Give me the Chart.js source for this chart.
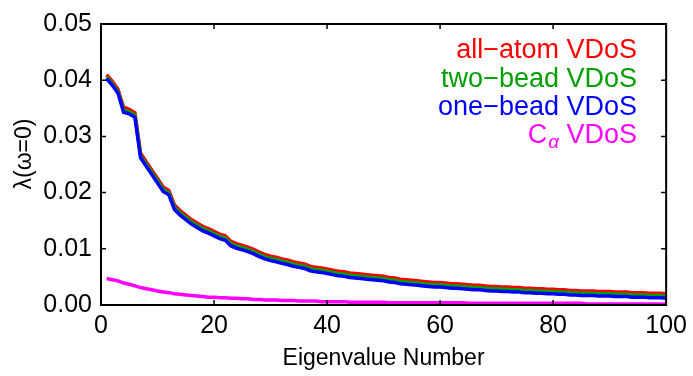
<!DOCTYPE html>
<html lang="en">
<head>
<meta charset="UTF-8">
<title>Eigenvalue spectrum</title>
<script src="https://cdn.jsdelivr.net/npm/chart.js"></script>
<style>
  body { margin: 0; background: #fff; }
  canvas { display: block; }
</style>
</head>
<body>
<canvas id="chart" width="693" height="376"></canvas>
<script>
// eigenvalue index 1..100
const eigenNums = Array.from({ length: 100 }, (_, i) => i + 1);

const allAtom = [
  0.0410, 0.0398, 0.0384, 0.0352, 0.0348, 0.0342, 0.0270, 0.0255, 0.0240, 0.0225,
  0.0210, 0.0204, 0.0178, 0.0168, 0.0160, 0.0152, 0.0146, 0.0140, 0.0136, 0.0131,
  0.0126, 0.0123, 0.0113, 0.0109, 0.0106, 0.0103, 0.0099, 0.0094, 0.0090, 0.0087,
  0.0085, 0.0082, 0.0080, 0.0077, 0.0075, 0.0073, 0.0069, 0.0067, 0.0066, 0.0064,
  0.0062, 0.0060, 0.0059, 0.0057, 0.0056, 0.0055, 0.0054, 0.0053, 0.0052, 0.0051,
  0.0049, 0.0048, 0.0046, 0.0045, 0.0044, 0.0043, 0.0042, 0.0041, 0.0040, 0.0040,
  0.0039, 0.0038, 0.0038, 0.0037, 0.0036, 0.0035, 0.0035, 0.0034, 0.0033, 0.0033,
  0.0032, 0.0032, 0.0031, 0.0031, 0.0030, 0.0030, 0.0029, 0.0029, 0.0028, 0.0028,
  0.0027, 0.0027, 0.0026, 0.0026, 0.0025, 0.0025, 0.0025, 0.0024, 0.0024, 0.0024,
  0.0023, 0.0023, 0.0023, 0.0022, 0.0022, 0.0022, 0.0021, 0.0021, 0.0021, 0.0020
];

const twoBead = [
  0.0406, 0.0394, 0.0380, 0.0347, 0.0344, 0.0338, 0.0265, 0.0251, 0.0236, 0.0221,
  0.0206, 0.0200, 0.0174, 0.0164, 0.0156, 0.0148, 0.0142, 0.0136, 0.0132, 0.0127,
  0.0122, 0.0119, 0.0109, 0.0105, 0.0102, 0.0099, 0.0095, 0.0090, 0.0086, 0.0083,
  0.0081, 0.0078, 0.0076, 0.0073, 0.0071, 0.0069, 0.0065, 0.0063, 0.0062, 0.0060,
  0.0058, 0.0056, 0.0055, 0.0053, 0.0052, 0.0051, 0.0050, 0.0049, 0.0048, 0.0047,
  0.0045, 0.0044, 0.0042, 0.0041, 0.0040, 0.0039, 0.0038, 0.0037, 0.0036, 0.0036,
  0.0035, 0.0034, 0.0034, 0.0033, 0.0032, 0.0031, 0.0031, 0.0030, 0.0029, 0.0029,
  0.0028, 0.0028, 0.0027, 0.0027, 0.0026, 0.0026, 0.0025, 0.0025, 0.0024, 0.0024,
  0.0023, 0.0023, 0.0022, 0.0022, 0.0021, 0.0021, 0.0021, 0.0020, 0.0020, 0.0020,
  0.0019, 0.0019, 0.0019, 0.0018, 0.0018, 0.0018, 0.0017, 0.0017, 0.0017, 0.0016
];

const oneBead = [
  0.0403, 0.0391, 0.0377, 0.0343, 0.0340, 0.0334, 0.0262, 0.0247, 0.0232, 0.0217,
  0.0202, 0.0196, 0.0170, 0.0160, 0.0152, 0.0144, 0.0138, 0.0132, 0.0128, 0.0123,
  0.0118, 0.0115, 0.0105, 0.0101, 0.0098, 0.0095, 0.0091, 0.0086, 0.0082, 0.0079,
  0.0077, 0.0074, 0.0072, 0.0069, 0.0067, 0.0065, 0.0061, 0.0059, 0.0058, 0.0056,
  0.0054, 0.0052, 0.0051, 0.0049, 0.0048, 0.0047, 0.0046, 0.0045, 0.0044, 0.0043,
  0.0041, 0.0040, 0.0038, 0.0037, 0.0036, 0.0035, 0.0034, 0.0033, 0.0032, 0.0032,
  0.0031, 0.0030, 0.0030, 0.0029, 0.0028, 0.0027, 0.0027, 0.0026, 0.0025, 0.0025,
  0.0024, 0.0024, 0.0023, 0.0023, 0.0022, 0.0022, 0.0021, 0.0021, 0.0020, 0.0020,
  0.0019, 0.0019, 0.0018, 0.0018, 0.0017, 0.0017, 0.0017, 0.0016, 0.0016, 0.0016,
  0.0015, 0.0015, 0.0015, 0.0014, 0.0014, 0.0014, 0.0013, 0.0013, 0.0013, 0.0012
];

const cAlpha = [
  0.0047, 0.0045, 0.0043, 0.0039, 0.0037, 0.0034, 0.0031, 0.0029, 0.0027, 0.0025,
  0.0023, 0.0022, 0.0020, 0.0019, 0.0018, 0.0017, 0.0016, 0.0015, 0.0014, 0.0014,
  0.0013, 0.0013, 0.0012, 0.0012, 0.0011, 0.0011, 0.0010, 0.0010, 0.0009, 0.0009,
  0.0009, 0.0008, 0.0008, 0.0008, 0.0007, 0.0007, 0.0007, 0.0007, 0.0006, 0.0006,
  0.0006, 0.0006, 0.0006, 0.0005, 0.0005, 0.0005, 0.0005, 0.0005, 0.0005, 0.0005,
  0.0004, 0.0004, 0.0004, 0.0004, 0.0004, 0.0004, 0.0004, 0.0004, 0.0004, 0.0004,
  0.0004, 0.0004, 0.0004, 0.0004, 0.0003, 0.0003, 0.0003, 0.0003, 0.0003, 0.0003,
  0.0003, 0.0003, 0.0003, 0.0003, 0.0003, 0.0003, 0.0003, 0.0003, 0.0003, 0.0003,
  0.0003, 0.0003, 0.0003, 0.0003, 0.0003, 0.0002, 0.0002, 0.0002, 0.0002, 0.0002,
  0.0002, 0.0002, 0.0002, 0.0002, 0.0002, 0.0002, 0.0002, 0.0002, 0.0002, 0.0002
];

const xTicks = [0, 20, 40, 60, 80, 100];
const yTicks = [0, 0.01, 0.02, 0.03, 0.04, 0.05];

const FONT = "'Liberation Sans', Arial, sans-serif";

function pts(arr) {
  return eigenNums.map((n, i) => ({ x: n, y: arr[i] }));
}

// frame with inward ticks, y title and coloured text legend
const framePlugin = {
  id: 'frame',
  afterDatasetsDraw(chart) {
    const { ctx, chartArea: a, scales } = chart;
    ctx.save();
    ctx.strokeStyle = '#000';
    ctx.lineWidth = 2;
    ctx.strokeRect(a.left, a.top, a.right - a.left, a.bottom - a.top);
    ctx.lineWidth = 1.5;
    const len = 5;
    ctx.beginPath();
    xTicks.forEach(v => {
      const px = scales.x.getPixelForValue(v);
      ctx.moveTo(px, a.bottom); ctx.lineTo(px, a.bottom - len);
      ctx.moveTo(px, a.top); ctx.lineTo(px, a.top + len);
    });
    yTicks.forEach(v => {
      const py = scales.y.getPixelForValue(v);
      ctx.moveTo(a.left, py); ctx.lineTo(a.left + len, py);
      ctx.moveTo(a.right, py); ctx.lineTo(a.right - len, py);
    });
    ctx.stroke();

    // y axis title
    ctx.save();
    ctx.translate(25, 154);
    ctx.rotate(-Math.PI / 2);
    ctx.fillStyle = '#000';
    ctx.font = '23px ' + FONT;
    ctx.textAlign = 'center';
    ctx.textBaseline = 'middle';
    ctx.fillText('\u03BB(\u03C9=0)', 0, 0);
    ctx.restore();

    // legend text, right aligned
    const rx = 637;
    ctx.font = '27px ' + FONT;
    ctx.textAlign = 'right';
    ctx.textBaseline = 'alphabetic';
    ctx.fillStyle = '#ff0000';
    ctx.fillText('all\u2212atom VDoS', rx, 58);
    ctx.fillStyle = '#00a000';
    ctx.fillText('two\u2212bead VDoS', rx, 87);
    ctx.fillStyle = '#0000ff';
    ctx.fillText('one\u2212bead VDoS', rx, 115);

    ctx.fillStyle = '#ff00ff';
    const tail = ' VDoS';
    const wTail = ctx.measureText(tail).width;
    ctx.fillText(tail, rx, 143);
    ctx.font = 'italic 19px ' + FONT;
    const wSub = ctx.measureText('\u03B1').width;
    ctx.fillText('\u03B1', rx - wTail, 148);
    ctx.font = '27px ' + FONT;
    ctx.fillText('C', rx - wTail - wSub - 1, 143);
    ctx.restore();
  }
};

new Chart(document.getElementById('chart').getContext('2d'), {
  type: 'line',
  data: {
    datasets: [
      { label: 'all-atom VDoS', data: pts(allAtom), borderColor: '#ff0000', order: 4 },
      { label: 'two-bead VDoS', data: pts(twoBead), borderColor: '#00a000', order: 3 },
      { label: 'one-bead VDoS', data: pts(oneBead), borderColor: '#0000ff', order: 2 },
      { label: 'C\u03B1 VDoS', data: pts(cAlpha), borderColor: '#ff00ff', order: 1 }
    ].map(d => Object.assign(d, { borderWidth: 3.5, pointRadius: 0, tension: 0, fill: false }))
  },
  options: {
    responsive: false,
    animation: false,
    layout: { padding: { top: 22, right: 20, left: 0, bottom: 0 } },
    plugins: { legend: { display: false }, tooltip: { enabled: false } },
    scales: {
      x: {
        type: 'linear',
        min: 0, max: 100,
        afterBuildTicks: s => { s.ticks = xTicks.map(v => ({ value: v })); },
        afterFit: s => { s.height = 71; },
        ticks: { font: { size: 25, family: FONT }, color: '#000', padding: 6, maxRotation: 0 },
        grid: { display: true, drawOnChartArea: false, drawTicks: false },
        border: { display: false },
        title: {
          display: true, text: 'Eigenvalue Number', color: '#000',
          font: { size: 23, family: FONT }, padding: { top: 0, bottom: 4 }
        }
      },
      y: {
        min: 0, max: 0.05,
        afterBuildTicks: s => { s.ticks = yTicks.map(v => ({ value: v })); },
        afterFit: s => { s.width = 101; },
        ticks: {
          font: { size: 25, family: FONT }, color: '#000', padding: 9,
          callback: v => v.toFixed(2)
        },
        grid: { display: true, drawOnChartArea: false, drawTicks: false },
        border: { display: false },
        title: { display: false }
      }
    }
  },
  plugins: [framePlugin]
});
</script>
</body>
</html>
